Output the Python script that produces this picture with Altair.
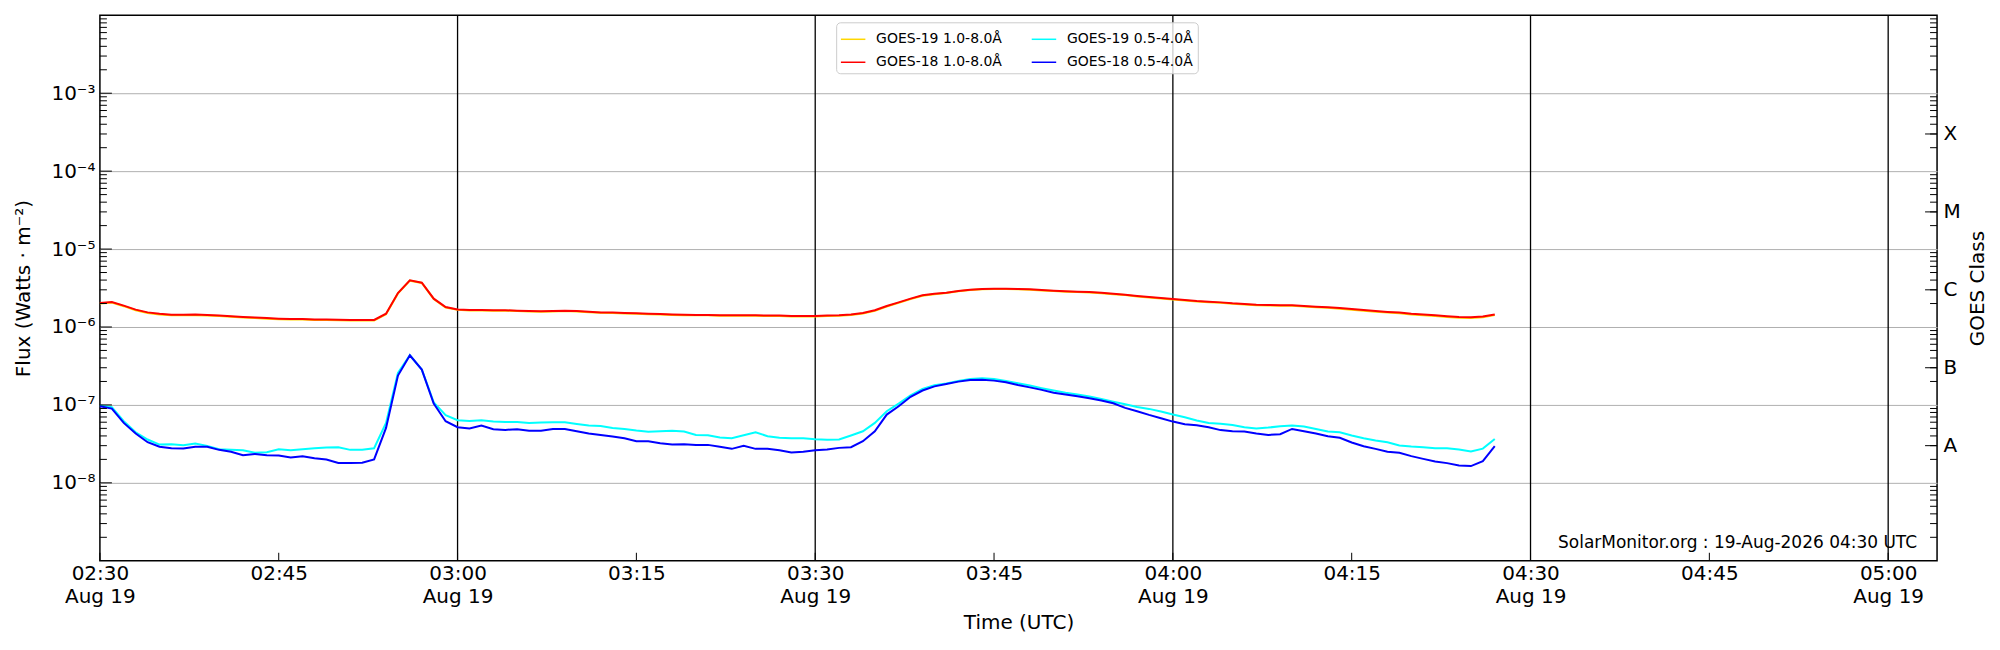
import altair as alt
import pandas as pd

# ---------------- data ----------------
# legend order (Vega fills the two legend columns top-to-bottom)
series_names = ["GOES-19 1.0-8.0Å", "GOES-18 1.0-8.0Å", "GOES-19 0.5-4.0Å", "GOES-18 0.5-4.0Å"]
series_colors = ["#ffd700", "#ff0000", "#00ffff", "#0000ff"]
draw_order = ["GOES-19 1.0-8.0Å", "GOES-18 1.0-8.0Å", "GOES-19 0.5-4.0Å", "GOES-18 0.5-4.0Å"]

start_time = "2026-08-19 02:30"
n_points = 118  # one sample per minute, 02:30 .. 04:27 UTC

# 1.0-8.0 A channels, units of 1e-6 W m^-2
goes19_long_e6 = [
    2.00, 2.06, 1.85, 1.64, 1.51, 1.45, 1.42, 1.41, 1.42, 1.40, 1.38, 1.35, 1.32, 1.30, 1.28, 1.26, 1.25, 1.25, 1.23, 1.23, 1.22, 1.21, 1.21, 1.21,
    1.46, 2.70, 3.93, 3.67, 2.29, 1.78, 1.66, 1.63, 1.63, 1.62, 1.62, 1.60, 1.58, 1.57, 1.58, 1.60, 1.58, 1.55, 1.52, 1.51, 1.49, 1.48, 1.46,
    1.45, 1.43, 1.42, 1.41, 1.41, 1.39, 1.39, 1.39, 1.39, 1.38, 1.38, 1.36, 1.36, 1.36, 1.38, 1.39, 1.43, 1.49, 1.61, 1.83, 2.04, 2.28, 2.52, 2.64,
    2.73, 2.87, 2.98, 3.04, 3.07, 3.07, 3.04, 3.01, 2.95, 2.89, 2.84, 2.81, 2.78, 2.72, 2.64, 2.57, 2.47, 2.39, 2.32, 2.26, 2.19, 2.12, 2.08,
    2.04, 1.98, 1.94, 1.90, 1.89, 1.87, 1.87, 1.83, 1.79, 1.76, 1.72, 1.67, 1.62, 1.57, 1.53, 1.50, 1.45, 1.42, 1.38, 1.34, 1.31, 1.30, 1.33, 1.42,
]
goes18_long_e6 = [
    2.03, 2.09, 1.88, 1.67, 1.54, 1.48, 1.44, 1.44, 1.45, 1.43, 1.40, 1.37, 1.34, 1.32, 1.30, 1.28, 1.27, 1.27, 1.25, 1.25, 1.24, 1.23, 1.23, 1.23,
    1.48, 2.73, 3.97, 3.70, 2.31, 1.80, 1.68, 1.65, 1.65, 1.64, 1.64, 1.62, 1.60, 1.59, 1.60, 1.62, 1.60, 1.57, 1.54, 1.53, 1.51, 1.50, 1.48,
    1.47, 1.45, 1.44, 1.43, 1.43, 1.41, 1.41, 1.41, 1.41, 1.40, 1.40, 1.38, 1.38, 1.38, 1.40, 1.41, 1.45, 1.51, 1.64, 1.86, 2.07, 2.31, 2.55, 2.67,
    2.76, 2.90, 3.01, 3.07, 3.10, 3.10, 3.07, 3.04, 2.98, 2.92, 2.87, 2.84, 2.81, 2.75, 2.67, 2.60, 2.50, 2.42, 2.35, 2.29, 2.22, 2.15, 2.11,
    2.07, 2.01, 1.97, 1.93, 1.92, 1.90, 1.90, 1.86, 1.82, 1.79, 1.75, 1.70, 1.65, 1.60, 1.56, 1.53, 1.48, 1.45, 1.41, 1.37, 1.34, 1.33, 1.36, 1.45,
]
# 0.5-4.0 A channels, units of 1e-8 W m^-2
goes19_short_e8 = [
    9.8, 9.33, 6.18, 4.46, 3.60, 3.10, 3.13, 3.04, 3.19, 2.98, 2.70, 2.65, 2.62, 2.43, 2.47, 2.70, 2.62, 2.70, 2.78, 2.84, 2.87, 2.65, 2.65, 2.78,
    5.88, 25.7, 43.4, 28.4, 10.8, 7.38, 6.36, 6.24, 6.36, 6.11, 6.05, 6.05, 5.88, 5.94, 6.0, 6.0, 5.70, 5.43, 5.38, 5.07, 4.92, 4.69, 4.51,
    4.6, 4.65, 4.55, 4.12, 4.08, 3.81, 3.74, 4.08, 4.46, 3.97, 3.78, 3.74, 3.74, 3.63, 3.56, 3.60, 4.05, 4.59, 5.88, 8.3, 10.4, 13.3, 16.0, 17.9,
    18.9, 20.3, 21.5, 22.0, 21.5, 20.3, 19.0, 17.7, 16.4, 15.3, 14.3, 13.6, 12.8, 11.9, 11.0, 10.2, 9.42, 8.89, 8.22, 7.52, 6.95, 6.3, 5.88,
    5.75, 5.54, 5.17, 4.98, 5.12, 5.32, 5.43, 5.27, 4.92, 4.55, 4.46, 4.05, 3.74, 3.49, 3.32, 3.01, 2.92, 2.87, 2.78, 2.78, 2.67, 2.52, 2.75, 3.66,
]
goes18_short_e8 = [
    9.6, 8.97, 5.88, 4.29, 3.32, 2.90, 2.78, 2.75, 2.90, 2.90, 2.65, 2.50, 2.26, 2.35, 2.26, 2.24, 2.11, 2.20, 2.07, 1.99, 1.80, 1.80, 1.81, 2.0,
    5.07, 23.8, 43.4, 28.4, 10.4, 6.18, 5.17, 4.98, 5.43, 4.88, 4.78, 4.88, 4.65, 4.65, 4.92, 4.92, 4.59, 4.29, 4.12, 3.93, 3.74, 3.42, 3.42,
    3.22, 3.10, 3.13, 3.07, 3.07, 2.90, 2.73, 2.98, 2.73, 2.73, 2.62, 2.45, 2.50, 2.62, 2.67, 2.81, 2.87, 3.42, 4.59, 7.52, 9.6, 12.7, 15.3, 17.3,
    18.5, 19.9, 20.9, 21.1, 20.5, 19.5, 18.0, 16.8, 15.6, 14.3, 13.6, 12.9, 12.2, 11.4, 10.5, 9.16, 8.3, 7.45, 6.75, 6.11, 5.65, 5.48, 5.17,
    4.75, 4.59, 4.55, 4.29, 4.12, 4.21, 4.92, 4.59, 4.29, 3.97, 3.78, 3.29, 2.95, 2.73, 2.50, 2.43, 2.20, 2.03, 1.88, 1.79, 1.67, 1.64, 1.90, 2.95,
]

x_tick_times = ["02:30", "02:45", "03:00", "03:15", "03:30", "03:45", "04:00", "04:15", "04:30", "04:45", "05:00"]
half_hour_lines = ["03:00", "03:30", "04:00", "04:30", "05:00"]
x_domain = [(2, 30, 0), (5, 4, 6)]
flux_decades = [1e-8, 1e-7, 1e-6, 1e-5, 1e-4, 1e-3]
y_domain = [1e-9, 1e-2]
class_letters = ["A", "B", "C", "M", "X"]
class_values = [3e-8, 3e-7, 3e-6, 3e-5, 3e-4]
annotation = "SolarMonitor.org : 19-Aug-2026 04:30 UTC"

# ---------------- tables ----------------
times = pd.date_range(start_time, periods=n_points, freq="1min", tz="UTC")
values = {
    "GOES-19 1.0-8.0Å": [v * 1e-6 for v in goes19_long_e6],
    "GOES-18 1.0-8.0Å": [v * 1e-6 for v in goes18_long_e6],
    "GOES-19 0.5-4.0Å": [v * 1e-8 for v in goes19_short_e8],
    "GOES-18 0.5-4.0Å": [v * 1e-8 for v in goes18_short_e8],
}
rows = []
for name in draw_order:
    for t, v in zip(times, values[name]):
        rows.append({"series": name, "time": t, "flux": v})
df = pd.DataFrame(rows)


def ts(hhmm):
    return pd.Timestamp(f"2026-08-19 {hhmm}", tz="UTC")


def dt(h, m, s=0):
    return alt.DateTime(year=2026, month=8, date=19, hours=h, minutes=m, seconds=s, utc=True)


tick_df = pd.DataFrame({"time": [ts(t) for t in x_tick_times]})
vline_df = pd.DataFrame({"time": [ts(t) for t in half_hour_lines]})
major_df = pd.DataFrame({"v": flux_decades})
minor_df = pd.DataFrame({"v": [m * 10.0 ** k for k in range(-9, -2) for m in range(2, 10)]})
class_df = pd.DataFrame({"v": class_values})
note_df = pd.DataFrame({"t": [annotation]})

# ---------------- layout ----------------
W, H = 1839, 546
FONT = "DejaVu Sans"

xscale = alt.Scale(type="utc", domain=[dt(*x_domain[0]), dt(*x_domain[1])])
yscale = alt.Scale(type="log", domain=y_domain)

sup = "['⁰','¹','²','³','⁴','⁵','⁶','⁷','⁸','⁹']"
left_label_expr = f"'10⁻' + {sup}[round(-log(datum.value)/LN10)]"
class_expr = " : ".join(
    f"datum.value < {v * 2} ? '{c}'" for c, v in zip(class_letters, class_values)
) + " : ''"

x_axis = alt.Axis(
    values=[dt(int(t[:2]), int(t[3:])) for t in x_tick_times],
    labelExpr="(utcminutes(datum.value) % 30 == 0) ? [utcFormat(datum.value, '%H:%M'), utcFormat(datum.value, '%b %d')] : utcFormat(datum.value, '%H:%M')",
    ticks=False, domain=False, grid=False,
    labelFontSize=20, labelPadding=3, labelLineHeight=23,
    labelOverlap=False, labelFlush=False, labelBaseline="top",
    title="Time (UTC)", titleFontSize=20, titlePadding=6,
)
y_axis_left = alt.Axis(
    orient="left", values=flux_decades, labelExpr=left_label_expr,
    ticks=False, domain=False, grid=True, gridColor="#b0b0b0", gridWidth=1,
    labelFontSize=20, labelPadding=5,
    title="Flux (Watts · m⁻²)", titleFontSize=20, titlePadding=17,
)
y_axis_right = alt.Axis(
    orient="right", values=class_values, labelExpr=class_expr,
    ticks=False, domain=False, grid=False,
    labelFontSize=20, labelPadding=6,
    title="GOES Class", titleFontSize=20, titleAngle=270, titlePadding=27,
)

legend = alt.Legend(
    title=None, orient="none", legendX=737, legendY=7, columns=2,
    symbolType="stroke", symbolStrokeWidth=1.5, symbolSize=600,
    labelFontSize=14, labelFont=FONT, labelOffset=10, labelLimit=400,
    padding=4, rowPadding=3, columnPadding=25,
    strokeColor="#cccccc", fillColor="rgba(255,255,255,0.8)", cornerRadius=4,
)
color = alt.Color("series:N", scale=alt.Scale(domain=series_names, range=series_colors), legend=legend)

layers = []
layers.append(
    alt.Chart(vline_df).mark_rule(color="black", strokeWidth=1.3).encode(
        x=alt.X("time:T", scale=xscale, axis=None)
    )
)
for i, name in enumerate(draw_order):
    layers.append(
        alt.Chart(df).transform_filter(alt.datum.series == name).mark_line(strokeWidth=2).encode(
            x=alt.X("time:T", scale=xscale, axis=x_axis if i == 0 else None),
            y=alt.Y("flux:Q", scale=yscale, axis=y_axis_left if i == 0 else None),
            color=color,
        )
    )
# inward ticks
layers.append(alt.Chart(major_df).mark_rule(color="black", strokeWidth=1).encode(
    y=alt.Y("v:Q", scale=yscale, axis=None), x=alt.value(0), x2=alt.value(12)))
layers.append(alt.Chart(minor_df).mark_rule(color="black", strokeWidth=1).encode(
    y=alt.Y("v:Q", scale=yscale, axis=None), x=alt.value(0), x2=alt.value(7)))
layers.append(alt.Chart(minor_df).mark_rule(color="black", strokeWidth=1).encode(
    y=alt.Y("v:Q", scale=yscale, axis=None), x=alt.value(W - 7), x2=alt.value(W)))
layers.append(alt.Chart(class_df).mark_rule(color="black", strokeWidth=1).encode(
    y=alt.Y("v:Q", scale=yscale, axis=y_axis_right), x=alt.value(W - 12), x2=alt.value(W)))
layers.append(alt.Chart(tick_df).mark_rule(color="black", strokeWidth=1).encode(
    x=alt.X("time:T", scale=xscale, axis=None), y=alt.value(H - 8), y2=alt.value(H)))
layers.append(alt.Chart(note_df).mark_text(align="right", baseline="middle", fontSize=17, font=FONT, color="black").encode(
    text="t:N", x=alt.value(1819), y=alt.value(528)))

chart = (
    alt.layer(*layers)
    .resolve_axis(x="independent", y="independent")
    .properties(
        width=W, height=H,
        padding={"left": 92, "top": 7, "right": 55, "bottom": 75},
        autosize=alt.AutoSizeParams(type="none"),
        background="white",
    )
    .configure(font=FONT)
    .configure_view(stroke="black", strokeWidth=1.5)
    .configure_axis(labelColor="black", titleColor="black", titleFontWeight="normal", labelFont=FONT, titleFont=FONT)
)

chart.save("out.html", embed_options={"renderer": "svg", "actions": False})
